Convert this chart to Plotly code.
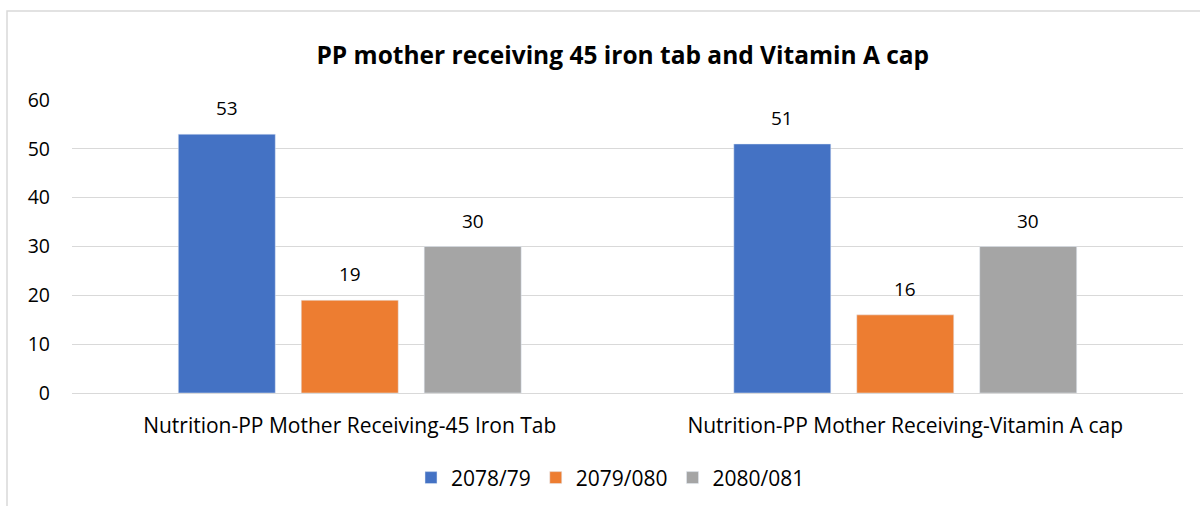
import plotly.graph_objects as go

categories = ["Nutrition-PP Mother Receiving-45 Iron Tab", "Nutrition-PP Mother Receiving-Vitamin A cap"]
series_names = ["2078/79", "2079/080", "2080/081"]
values_2078 = [53, 51]
values_2079 = [19, 16]
values_2080 = [30, 30]
colors = ["#4472C4", "#ED7D31", "#A5A5A5"]
title = "PP mother receiving 45 iron tab and Vitamin A cap"
tick_vals = [0, 10, 20, 30, 40, 50, 60]

FONT = "Open Sans"
all_series = [values_2078, values_2079, values_2080]

fig = go.Figure()
for name, vals, col in zip(series_names, all_series, colors):
    fig.add_trace(go.Bar(x=categories, y=vals, name=name, marker_color=col))

# data labels above bars
slot = 123
annotations = []
for i, vals in enumerate(all_series):
    for cat, v in zip(categories, vals):
        annotations.append(dict(x=cat, y=v, xref="x", yref="y", text=str(v), showarrow=False,
                                xshift=(i - 1) * slot, yanchor="bottom", yshift=11,
                                font=dict(size=19, color="#000000", family=FONT)))

fig.update_layout(
    width=1200, height=506,
    margin=dict(l=72, r=17, t=100, b=113, autoexpand=False),
    paper_bgcolor="white", plot_bgcolor="white",
    barmode="group", bargap=0.336, bargroupgap=0.211,
    title=dict(text="<b>" + title + "</b>", x=0.519, xanchor="center", y=0.891, yanchor="middle",
               yref="container", font=dict(size=24.5, color="#000000", family=FONT)),
    font=dict(family=FONT, color="#000000", size=19),
    showlegend=True,
    legend=dict(orientation="h", x=0.4847, xanchor="center", y=-0.29, yanchor="middle",
                font=dict(size=21, color="#000000", family=FONT), itemwidth=30,
                traceorder="normal"),
    xaxis=dict(showgrid=False, showline=True, linecolor="#D9D9D9", linewidth=1,
               tickfont=dict(size=21, color="#000000", family=FONT), ticks="",
               ticklabelstandoff=14, automargin=False),
    yaxis=dict(range=[0, 60], tickvals=tick_vals, showgrid=True, gridcolor="#D9D9D9",
               gridwidth=1, zeroline=False, showline=False, automargin=False,
               tickfont=dict(size=19.5, color="#000000", family=FONT), ticklabelstandoff=21),
    annotations=annotations,
    shapes=[dict(type="rect", xref="paper", yref="paper",
                 x0=-0.0585, x1=1.05, y0=-0.45, y1=1.3038,
                 line=dict(color="#D9D9D9", width=1.5), fillcolor="rgba(0,0,0,0)", layer="below")],
)

fig.write_html("out.html", post_script="document.body.style.margin='0';",
               config={"displayModeBar": False})
